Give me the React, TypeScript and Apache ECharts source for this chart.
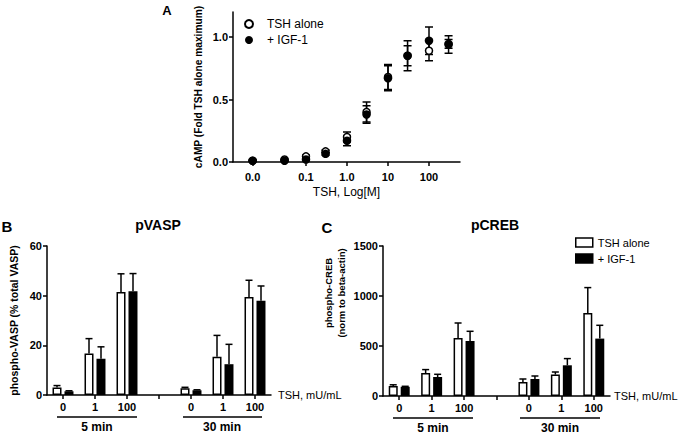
import React, { useEffect, useRef } from 'react';
import * as echarts from 'echarts';

const FONT = '"Liberation Sans", Arial, Helvetica, sans-serif';

// Panel A: cAMP dose response
const campDoses = [0.005, 0.03, 0.1, 0.3, 1, 3, 10, 30, 100, 300];
const campTsh = [0.01, 0.02, 0.045, 0.085, 0.2, 0.4, 0.68, 0.85, 0.89, 0.94];
const campTshErr = [0.005, 0.005, 0.01, 0.01, 0.04, 0.08, 0.1, 0.12, 0.08, 0.07];
const campIgf = [0.01, 0.01, 0.02, 0.065, 0.17, 0.38, 0.67, 0.85, 0.97, 0.945];
const campIgfErr = [0.005, 0.005, 0.01, 0.01, 0.04, 0.07, 0.1, 0.08, 0.11, 0.035];
const campXTicks = [0.005, 0.1, 1, 10, 100];
const campXTickLabels = ['0.0', '0.1', '1.0', '10', '100'];
const campYTicks = [0, 0.5, 1.0];

// Panels B & C: categories (blank = gap between time points)
const barCategories = ['0', '1', '100', '', '0', '1', '100'];

// Panel B: pVASP
const vaspTsh = [3.0, 16.7, 41.5, null, 2.7, 15.4, 39.5];
const vaspTshErr = [0.8, 6.0, 7.3, null, 0.4, 8.6, 6.7];
const vaspIgf = [1.5, 14.6, 41.8, null, 1.9, 12.4, 38.0];
const vaspIgfErr = [0.2, 4.8, 7.1, null, 0.2, 8.0, 5.9];

// Panel C: pCREB
const crebTsh = [100, 230, 580, null, 140, 214, 830];
const crebTshErr = [12, 34, 150, null, 30, 26, 254];
const crebIgf = [92, 190, 550, null, 170, 307, 574];
const crebIgfErr = [5, 27, 97, null, 30, 67, 133];

const BAR_W = 9;
const BAR_OFFSET = 6;
const CAP = 3.5;
const LW = 1.5;

const axisLineStyle = { color: '#000', width: LW };

function barErrSeries(name: string, axisIdx: number, values: (number | null)[], errs: (number | null)[], side: number) {
  const data: number[][] = [];
  values.forEach((v, i) => {
    if (v != null && errs[i] != null) data.push([i, v, errs[i] as number]);
  });
  return {
    type: 'custom',
    name,
    xAxisIndex: axisIdx,
    yAxisIndex: axisIdx,
    z: 4,
    encode: { x: 0, y: 1 },
    data,
    renderItem: (params: any, api: any) => {
      const i = api.value(0);
      const v = api.value(1);
      const e = api.value(2);
      const base = api.coord([i, v]);
      const top = api.coord([i, v + e]);
      const x = base[0] + side * BAR_OFFSET;
      return {
        type: 'group',
        children: [
          { type: 'line', shape: { x1: x, y1: base[1], x2: x, y2: top[1] }, style: { stroke: '#000', lineWidth: LW } },
          { type: 'line', shape: { x1: x - CAP, y1: top[1], x2: x + CAP, y2: top[1] }, style: { stroke: '#000', lineWidth: LW } },
        ],
      };
    },
  };
}

function scatterErrSeries(name: string, values: number[], errs: number[]) {
  const data = campDoses.map((d, i) => [d, values[i], errs[i]]);
  return {
    type: 'custom',
    name,
    xAxisIndex: 0,
    yAxisIndex: 0,
    z: 2,
    encode: { x: 0, y: 1 },
    data,
    renderItem: (params: any, api: any) => {
      const x = api.value(0);
      const v = api.value(1);
      const e = api.value(2);
      const top = api.coord([x, v + e]);
      const bot = api.coord([x, v - e]);
      const px = top[0];
      const st = { stroke: '#000', lineWidth: LW };
      return {
        type: 'group',
        children: [
          { type: 'line', shape: { x1: px, y1: top[1], x2: px, y2: bot[1] }, style: st },
          { type: 'line', shape: { x1: px - 4, y1: top[1], x2: px + 4, y2: top[1] }, style: st },
          { type: 'line', shape: { x1: px - 4, y1: bot[1], x2: px + 4, y2: bot[1] }, style: st },
        ],
      };
    },
  };
}

function campLabel(v: number) {
  let best = 0;
  let bd = Infinity;
  campXTicks.forEach((t, i) => {
    const d = Math.abs(Math.log10(v) - Math.log10(t));
    if (d < bd) { bd = d; best = i; }
  });
  return campXTickLabels[best];
}

function txt(text: string, x: number, y: number, size: number, bold = true) {
  return {
    type: 'text',
    x,
    y,
    style: {
      text,
      fontSize: size,
      fontWeight: bold ? 'bold' : 'normal',
      fontFamily: FONT,
      fill: '#000',
      align: 'center',
      verticalAlign: 'middle',
    },
  };
}

function hline(x1: number, x2: number, y: number) {
  return { type: 'line', shape: { x1, y1: y, x2, y2: y }, style: { stroke: '#000', lineWidth: LW } };
}

function catXAxis(gridIndex: number, nameGap: number) {
  return {
    type: 'category',
    gridIndex,
    data: barCategories,
    axisLine: { lineStyle: axisLineStyle },
    axisTick: { show: true, alignWithLabel: true, interval: 0, length: 4, lineStyle: axisLineStyle },
    axisLabel: { interval: 0, fontSize: 11, fontWeight: 'bold', fontFamily: FONT, color: '#000', margin: 6 },
    splitLine: { show: false },
    name: 'TSH, mU/mL',
    nameLocation: 'end',
    nameGap,
    nameTextStyle: { fontSize: 11, fontFamily: FONT, color: '#000' },
  };
}

function valYAxis(gridIndex: number, max: number, interval: number, extra: any = {}) {
  return {
    type: 'value',
    gridIndex,
    min: 0,
    max,
    interval,
    axisLine: { show: true, lineStyle: axisLineStyle },
    axisTick: { show: true, length: 4, lineStyle: axisLineStyle },
    axisLabel: {
      formatter: (v: number) => String(v),
      fontSize: 11,
      fontWeight: 'bold',
      fontFamily: FONT,
      color: '#000',
      margin: 5,
    },
    splitLine: { show: false },
    ...extra,
  };
}

function barSeries(name: string, axisIdx: number, values: (number | null)[], open: boolean) {
  return {
    type: 'bar',
    name,
    xAxisIndex: axisIdx,
    yAxisIndex: axisIdx,
    barWidth: BAR_W,
    barGap: '33%',
    z: 3,
    data: values.map((v) => (v == null ? '-' : v)),
    itemStyle: open
      ? { color: '#fff', borderColor: '#000', borderWidth: LW }
      : { color: '#000', borderColor: '#000', borderWidth: 0 },
  };
}

export default function App() {
  const ref = useRef<HTMLDivElement>(null);

  useEffect(() => {
    if (!ref.current) return;
    const chart = echarts.init(ref.current, undefined, { renderer: 'svg' });
    const option: any = {
      animation: false,
      backgroundColor: '#fff',
      textStyle: { fontFamily: FONT },
      grid: [
        { left: 233, top: 12, width: 227, height: 150 },
        { left: 47, top: 246, width: 224, height: 149 },
        { left: 383, top: 246, width: 227, height: 150 },
      ],
      xAxis: [
        {
          type: 'log',
          gridIndex: 0,
          min: 0.00166,
          max: 570,
          axisLine: { lineStyle: axisLineStyle },
          axisTick: { show: true, customValues: campXTicks, length: 4, lineStyle: axisLineStyle },
          axisLabel: {
            customValues: campXTicks,
            formatter: (v: number) => campLabel(v),
            fontSize: 11,
            fontWeight: 'bold',
            fontFamily: FONT,
            color: '#000',
            margin: 9,
          },
          minorTick: { show: false },
          splitLine: { show: false },
          name: 'TSH, Log[M]',
          nameLocation: 'middle',
          nameGap: 24,
          nameTextStyle: { fontSize: 12, fontFamily: FONT, color: '#000' },
        },
        catXAxis(1, 7),
        catXAxis(2, 4),
      ],
      yAxis: [
        {
          type: 'value',
          gridIndex: 0,
          min: 0,
          max: 1.2,
          axisLine: { show: true, lineStyle: axisLineStyle },
          axisTick: { show: true, customValues: campYTicks, length: 4, lineStyle: axisLineStyle },
          axisLabel: {
            customValues: campYTicks,
            formatter: (v: number) => v.toFixed(1),
            fontSize: 11,
            fontWeight: 'bold',
            fontFamily: FONT,
            color: '#000',
            margin: 5,
          },
          splitLine: { show: false },
          name: 'cAMP (Fold TSH alone maximum)',
          nameLocation: 'middle',
          nameGap: 30,
          nameTextStyle: { fontSize: 10.2, fontWeight: 'bold', fontFamily: FONT, color: '#000' },
        },
        valYAxis(1, 60, 20, {
          name: 'phospho-VASP (% total VASP)',
          nameLocation: 'middle',
          nameGap: 28,
          nameTextStyle: { fontSize: 10.5, fontWeight: 'bold', fontFamily: FONT, color: '#000' },
        }),
        valYAxis(2, 1500, 500),
      ],
      legend: [
        {
          data: ['TSH alone', '+ IGF-1'],
          orient: 'vertical',
          left: 239,
          top: 13,
          itemWidth: 26,
          itemHeight: 8,
          itemGap: 4,
          selectedMode: false,
          textStyle: { fontSize: 12, fontFamily: FONT, color: '#000' },
        },
        {
          data: ['pCREB: TSH alone', 'pCREB: + IGF-1'],
          formatter: (n: string) => n.replace('pCREB: ', ''),
          orient: 'vertical',
          left: 570,
          top: 232,
          icon: 'rect',
          itemWidth: 17,
          itemHeight: 9,
          itemGap: 5,
          selectedMode: false,
          itemStyle: { borderWidth: LW },
          textStyle: { fontSize: 11, fontFamily: FONT, color: '#000' },
        },
      ],
      series: [
        scatterErrSeries('A err TSH', campTsh, campTshErr),
        scatterErrSeries('A err IGF', campIgf, campIgfErr),
        {
          type: 'scatter',
          name: 'TSH alone',
          xAxisIndex: 0,
          yAxisIndex: 0,
          z: 3,
          symbol: 'circle',
          symbolSize: 7,
          data: campDoses.map((d, i) => [d, campTsh[i]]),
          itemStyle: { color: '#fff', borderColor: '#000', borderWidth: LW, opacity: 1 },
        },
        {
          type: 'scatter',
          name: '+ IGF-1',
          xAxisIndex: 0,
          yAxisIndex: 0,
          z: 4,
          symbol: 'circle',
          symbolSize: 8.5,
          data: campDoses.map((d, i) => [d, campIgf[i]]),
          itemStyle: { color: '#000', opacity: 1 },
        },
        barSeries('pVASP: TSH alone', 1, vaspTsh, true),
        barSeries('pVASP: + IGF-1', 1, vaspIgf, false),
        barErrSeries('pVASP err TSH', 1, vaspTsh, vaspTshErr, -1),
        barErrSeries('pVASP err IGF', 1, vaspIgf, vaspIgfErr, 1),
        barSeries('pCREB: TSH alone', 2, crebTsh, true),
        barSeries('pCREB: + IGF-1', 2, crebIgf, false),
        barErrSeries('pCREB err TSH', 2, crebTsh, crebTshErr, -1),
        barErrSeries('pCREB err IGF', 2, crebIgf, crebIgfErr, 1),
      ],
      graphic: [
        txt('A', 167, 10, 13),
        txt('B', 7, 226, 15),
        txt('C', 327, 227, 15),
        txt('pVASP', 158, 224.5, 14),
        txt('pCREB', 495, 225, 14),
        {
          type: 'text',
          x: 335,
          y: 293,
          rotation: Math.PI / 2,
          style: {
            text: 'phospho-CREB\n(norm to beta-actin)',
            fontSize: 9.5,
            fontWeight: 'bold',
            fontFamily: FONT,
            fill: '#000',
            align: 'center',
            verticalAlign: 'middle',
            lineHeight: 13,
          },
        },
        hline(57, 137, 417),
        hline(183, 262, 417),
        hline(393, 473, 418),
        hline(520, 600, 418),
        txt('5 min', 97, 427, 12),
        txt('30 min', 222, 427, 12),
        txt('5 min', 433, 428, 12),
        txt('30 min', 560, 428, 12),
      ],
    };
    chart.setOption(option);
    return () => chart.dispose();
  }, []);

  return (
    <div
      ref={ref}
      style={{ position: 'fixed', left: 0, top: 0, width: 680, height: 435, background: '#fff' }}
    />
  );
}
